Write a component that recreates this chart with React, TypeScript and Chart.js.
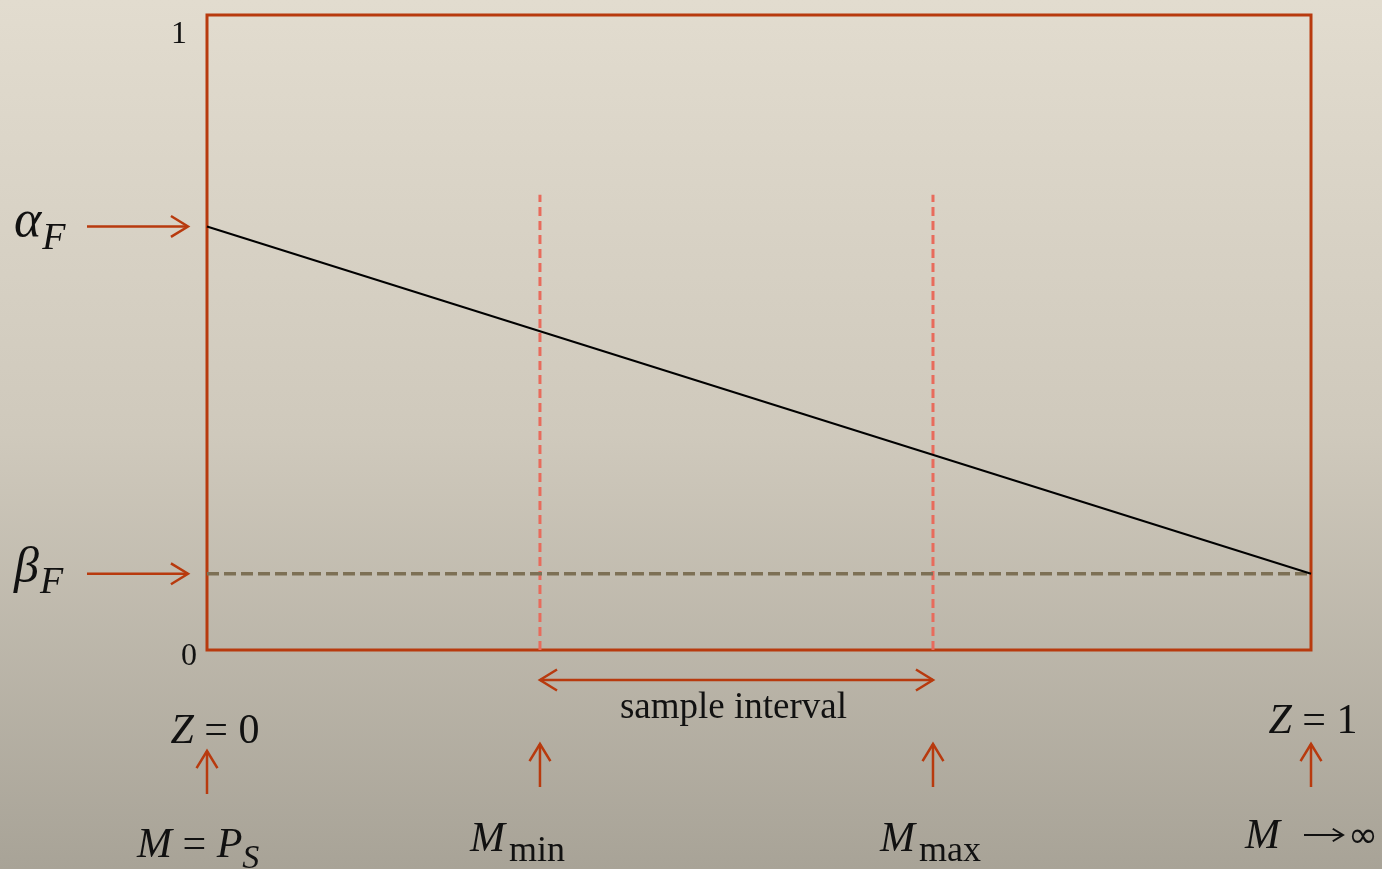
import React, { useEffect, useRef } from "react";
import { Chart, registerables } from "chart.js";

Chart.register(...registerables);

// ---- data ----
const zRange = [0, 1];
const mainLineZ = [0, 1];
const mainLineValues = [0.667, 0.12];
const betaLevel = [0.12, 0.12];
const sampleBounds = [0.3016, 0.6576];
const sampleLineTop = 0.717;
const yTickValues = [0, 1];
const yTickLabels = ["0", "1"];

const RED = "#b83a0e";
const FONT = "'Liberation Serif', 'DejaVu Serif', serif";
const SYM = "'DejaVu Sans', 'DejaVu Serif', sans-serif";

type Part = { t: string; italic?: boolean; size: number; dy?: number; gap?: number; font?: string };

function drawMath(ctx: CanvasRenderingContext2D, parts: Part[], x: number, y: number, align: "left" | "center" | "right") {
  const fontOf = (p: Part) => `${p.italic ? "italic " : ""}${p.size}px ${p.font || FONT}`;
  const widths = parts.map((p) => {
    ctx.font = fontOf(p);
    return ctx.measureText(p.t).width + (p.gap || 0);
  });
  const total = widths.reduce((a, b) => a + b, 0);
  let cx = align === "left" ? x : align === "center" ? x - total / 2 : x - total;
  ctx.fillStyle = "#111";
  ctx.textAlign = "left";
  ctx.textBaseline = "alphabetic";
  parts.forEach((p, i) => {
    ctx.font = fontOf(p);
    ctx.fillText(p.t, cx, y + (p.dy || 0));
    cx += widths[i];
  });
}

function arrow(ctx: CanvasRenderingContext2D, x1: number, y1: number, x2: number, y2: number, both = false, color = RED, L = 20, w = 2.5) {
  const head = (fx: number, fy: number, tx: number, ty: number) => {
    const a = Math.atan2(ty - fy, tx - fx);
    const s = 0.55;
    ctx.beginPath();
    ctx.moveTo(tx - L * Math.cos(a - s), ty - L * Math.sin(a - s));
    ctx.lineTo(tx, ty);
    ctx.lineTo(tx - L * Math.cos(a + s), ty - L * Math.sin(a + s));
    ctx.stroke();
  };
  ctx.save();
  ctx.strokeStyle = color;
  ctx.lineWidth = w;
  ctx.setLineDash([]);
  ctx.beginPath();
  ctx.moveTo(x1, y1);
  ctx.lineTo(x2, y2);
  ctx.stroke();
  head(x1, y1, x2, y2);
  if (both) head(x2, y2, x1, y1);
  ctx.restore();
}

const annotations = {
  id: "annotations",
  beforeDatasetsDraw(chart: any) {
    const { ctx, chartArea: ca } = chart;
    ctx.save();
    ctx.strokeStyle = RED;
    ctx.lineWidth = 3;
    ctx.strokeRect(ca.left, ca.top, ca.right - ca.left, ca.bottom - ca.top);
    ctx.restore();
  },
  afterDatasetsDraw(chart: any) {
    const { ctx, scales } = chart;
    const xs = scales.x;
    const ys = scales.y;
    ctx.save();
    // y tick labels
    ctx.font = `32px ${FONT}`;
    ctx.fillStyle = "#111";
    ctx.textAlign = "right";
    ctx.textBaseline = "alphabetic";
    yTickValues.forEach((v, i) => {
      const py = ys.getPixelForValue(v);
      const off = v === 1 ? 28 : 15;
      ctx.fillText(yTickLabels[i], xs.getPixelForValue(0) - (v === 1 ? 20 : 10), py + off);
    });

    // left arrows
    const ya = ys.getPixelForValue(mainLineValues[0]);
    const yb = ys.getPixelForValue(betaLevel[0]);
    const x0 = xs.getPixelForValue(0);
    arrow(ctx, 87, ya, x0 - 19, ya);
    arrow(ctx, 87, yb, x0 - 19, yb);
    drawMath(ctx, [{ t: "α", italic: true, size: 52, gap: 1 }, { t: "F", italic: true, size: 38, dy: 13 }], 14, ya + 10, "left");
    drawMath(ctx, [{ t: "β", italic: true, size: 50, gap: 1 }, { t: "F", italic: true, size: 38, dy: 11 }], 14, yb + 8, "left");

    // sample interval
    const xm = xs.getPixelForValue(sampleBounds[0]);
    const xM = xs.getPixelForValue(sampleBounds[1]);
    const x1 = xs.getPixelForValue(1);
    arrow(ctx, xm, 680, xM, 680, true);
    drawMath(ctx, [{ t: "sample interval", size: 37 }], (xm + xM) / 2 - 3, 718, "center");

    // up arrows
    arrow(ctx, x0, 794, x0, 751);
    arrow(ctx, xm, 787, xm, 744);
    arrow(ctx, xM, 787, xM, 744);
    arrow(ctx, x1, 787, x1, 744);

    // Z labels
    drawMath(ctx, [{ t: "Z", italic: true, size: 42 }, { t: " = ", size: 42 }, { t: "0", size: 42 }], x0 + 8, 743, "center");
    drawMath(ctx, [{ t: "Z", italic: true, size: 42 }, { t: " = ", size: 42 }, { t: "1", size: 42 }], x1 + 2, 733, "center");

    // M labels
    drawMath(ctx, [{ t: "M", italic: true, size: 42 }, { t: " = ", size: 42 }, { t: "P", italic: true, size: 42 }, { t: "S", italic: true, size: 34, dy: 11 }], 137, 857, "left");
    drawMath(ctx, [{ t: "M", italic: true, size: 42, gap: 4 }, { t: "min", size: 36, dy: 10 }], 470, 851, "left");
    drawMath(ctx, [{ t: "M", italic: true, size: 42, gap: 4 }, { t: "max", size: 36, dy: 10 }], 880, 851, "left");
    drawMath(ctx, [{ t: "M", italic: true, size: 42 }], 1245, 848, "left");
    arrow(ctx, 1304, 835, 1343, 835, false, "#111", 12, 2);
    drawMath(ctx, [{ t: "∞", size: 36, font: SYM }], 1348, 847, "left");
    ctx.restore();
  },
};

export default function App() {
  const ref = useRef<HTMLCanvasElement | null>(null);
  useEffect(() => {
    document.body.style.margin = "0";
    const canvas = ref.current!;
    const chart = new Chart(canvas, {
      type: "line",
      data: {
        datasets: [
          {
            data: mainLineZ.map((z, i) => ({ x: z, y: mainLineValues[i] })),
            borderColor: "#000",
            borderWidth: 2,
            pointRadius: 0,
            clip: false as any,
          },
          {
            data: zRange.map((z, i) => ({ x: z, y: betaLevel[i] })),
            borderColor: "#7d7055",
            borderWidth: 3.5,
            borderDash: [12, 5],
            pointRadius: 0,
            clip: false as any,
          },
          ...sampleBounds.map((b) => ({
            data: [
              { x: b, y: 0 },
              { x: b, y: sampleLineTop },
            ],
            borderColor: "#e86b5c",
            borderWidth: 3,
            borderDash: [9, 5],
            pointRadius: 0,
            clip: false as any,
          })),
        ],
      },
      options: {
        animation: false,
        responsive: false,
        maintainAspectRatio: false,
        layout: { padding: { left: 207, right: 71, top: 15, bottom: 219 } },
        plugins: { legend: { display: false }, tooltip: { enabled: false } },
        scales: {
          x: { type: "linear", min: zRange[0], max: zRange[1], display: false },
          y: { type: "linear", min: 0, max: 1, display: false },
        },
      },
      plugins: [annotations],
    });
    return () => chart.destroy();
  }, []);
  return (
    <div
      style={{
        position: "fixed",
        left: 0,
        top: 0,
        width: 1382,
        height: 869,
        background: "linear-gradient(to bottom, #e2dccf 0%, #cfc9bc 50%, #a8a397 100%)",
      }}
    >
      <canvas ref={ref} width={1382} height={869} style={{ display: "block" }} />
    </div>
  );
}
